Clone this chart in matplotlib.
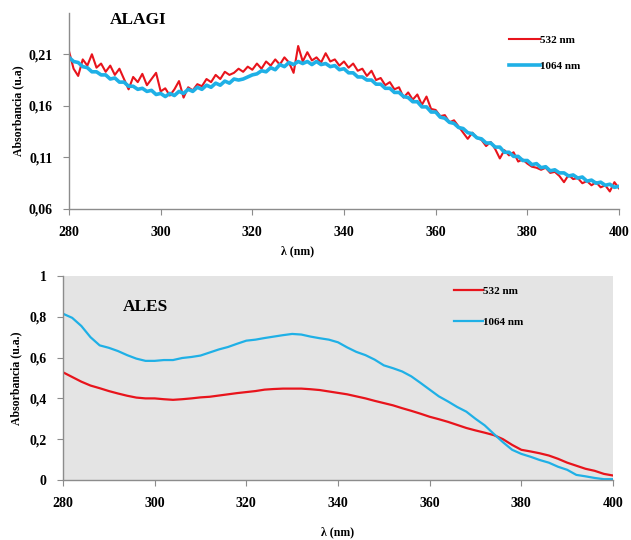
import matplotlib
matplotlib.use("Agg")
import matplotlib.pyplot as plt
import numpy as np

plt.rcParams['font.family'] = ['Liberation Serif', 'DejaVu Serif']
plt.rcParams['font.weight'] = 'bold'

# ALAGI (top), 1 nm steps
lam_top = np.arange(280, 401, 1)
alagi_532 = [
    .213, .196, .189, .205, .199, .210, .197, .201, .193, .199,
    .190, .196, .186, .176, .188, .183, .191, .180, .186, .192,
    .174, .177, .170, .176, .184, .168, .178, .175, .181, .179,
    .186, .183, .190, .186, .193, .190, .192, .196, .193, .198,
    .195, .201, .196, .203, .199, .205, .200, .207, .202, .192,
    .218, .203, .212, .204, .207, .202, .211, .203, .205, .199,
    .203, .197, .201, .194, .196, .189, .194, .185, .187, .180,
    .183, .176, .178, .168, .173, .166, .171, .161, .169, .157,
    .156, .150, .151, .144, .146, .140, .134, .128, .134, .129,
    .127, .121, .125, .118, .109, .117, .112, .115, .106, .108,
    .104, .101, .100, .098, .100, .095, .096, .092, .086, .093,
    .089, .090, .085, .087, .083, .086, .081, .083, .077, .086,
    .080]
alagi_1064 = [
    .207, .203, .202, .198, .197, .193, .193, .190, .190, .186,
    .187, .183, .183, .179, .179, .176, .177, .174, .175, .171,
    .172, .169, .172, .170, .174, .172, .176, .174, .178, .176,
    .180, .178, .182, .180, .184, .182, .186, .185, .186, .188,
    .190, .191, .194, .193, .197, .195, .200, .198, .202, .200,
    .203, .201, .203, .200, .203, .200, .201, .198, .199, .195,
    .196, .192, .192, .188, .188, .185, .185, .181, .181, .177,
    .177, .173, .173, .169, .168, .164, .164, .159, .159, .154,
    .154, .149, .148, .144, .143, .139, .138, .134, .133, .129,
    .128, .124, .124, .120, .120, .115, .115, .111, .111, .107,
    .107, .103, .104, .100, .101, .097, .098, .095, .095, .092,
    .093, .090, .091, .087, .088, .085, .086, .083, .084, .081,
    .082]

# ALES (bottom), 2 nm steps
lam_bot = np.arange(280, 401, 2)
ales_532 = [
    .528, .505, .482, .463, .450, .436, .424, .413, .404, .400,
    .400, .396, .393, .396, .400, .405, .408, .414, .420, .426,
    .431, .436, .443, .446, .448, .448, .448, .445, .441, .434,
    .427, .420, .410, .400, .388, .377, .366, .352, .339, .325,
    .310, .298, .285, .270, .255, .243, .232, .220, .200, .172,
    .148, .140, .131, .120, .104, .085, .070, .055, .045, .030,
    .022]
ales_1064 = [
    .815, .795, .755, .700, .660, .648, .632, .612, .595, .584,
    .584, .588, .588, .598, .603, .610, .625, .640, .652, .668,
    .683, .688, .696, .703, .710, .716, .713, .703, .695, .688,
    .675, .650, .628, .612, .590, .562, .548, .532, .508, .476,
    .443, .410, .385, .358, .335, .300, .268, .226, .185, .148,
    .128, .114, .098, .085, .065, .050, .025, .018, .010, .004,
    .004]

x_ticks = [280, 300, 320, 340, 360, 380, 400]
top_yticks = [0.06, 0.11, 0.16, 0.21]
top_ylabels = ['0,06', '0,11', '0,16', '0,21']
bot_yticks = [0, 0.2, 0.4, 0.6, 0.8, 1]
bot_ylabels = ['0', '0,2', '0,4', '0,6', '0,8', '1']

RED = '#e8141c'
BLUE = '#1fb0e6'
W, H = 631, 540

fig = plt.figure(figsize=(W / 100, H / 100), dpi=100)

def style(ax):
    for s in ['top', 'right']:
        ax.spines[s].set_visible(False)
    for s in ['left', 'bottom']:
        ax.spines[s].set_color('#8c8c8c')
        ax.spines[s].set_linewidth(1.0)
    ax.tick_params(axis='both', direction='out', length=4, color='#8c8c8c',
                   labelsize=10)
    ax.tick_params(axis='x', pad=8)
    ax.tick_params(axis='y', pad=8)
    ax.set_xlim(280, 400)
    ax.set_xticks(x_ticks)
    for lab in ax.get_xticklabels() + ax.get_yticklabels():
        lab.set_fontweight('bold')

# top panel
ax1 = fig.add_axes([69 / W, 1 - 209 / H, 550 / W, 196 / H])
ax1.plot(lam_top, alagi_532, color=RED, lw=1.5, label='532 nm')
ax1.plot(lam_top, alagi_1064, color=BLUE, lw=2.6, label='1064 nm')
ax1.set_ylim(0.06, 0.25)
ax1.set_yticks(top_yticks)
ax1.set_yticklabels(top_ylabels)
style(ax1)
ax1.set_ylabel('Absorbancia (u.a)', fontsize=8.5, fontweight='bold', labelpad=3)
ax1.legend(loc='upper left', bbox_to_anchor=(509 / W, 1 - 35 / H),
           bbox_transform=fig.transFigure, frameon=False, fontsize=8,
           handlelength=2.8, handletextpad=0.0, labelspacing=1.45,
           borderpad=0, borderaxespad=0)
fig.text(138 / W, 1 - 20 / H, 'ALAGI', fontsize=12.5, fontweight='bold',
         ha='center', va='center')
fig.text(298 / W, 1 - 251 / H, 'λ (nm)', fontsize=8.5, fontweight='bold',
         ha='center', va='center')

# bottom panel
ax2 = fig.add_axes([63 / W, 1 - 480 / H, 550 / W, 204 / H])
ax2.set_facecolor('#e4e4e4')
ax2.plot(lam_bot, ales_532, color=RED, lw=1.6, label='532 nm')
ax2.plot(lam_bot, ales_1064, color=BLUE, lw=1.6, label='1064 nm')
ax2.set_ylim(0, 1)
ax2.set_yticks(bot_yticks)
ax2.set_yticklabels(bot_ylabels)
style(ax2)
ax2.set_ylabel('Absorbancia (u.a.)', fontsize=8.5, fontweight='bold', labelpad=5)
ax2.legend(loc='upper left', bbox_to_anchor=(454 / W, 1 - 286 / H),
           bbox_transform=fig.transFigure, frameon=False, fontsize=8,
           handlelength=2.6, handletextpad=0.0, labelspacing=1.9,
           borderpad=0, borderaxespad=0)
fig.text(145 / W, 1 - 307 / H, 'ALES', fontsize=12.5, fontweight='bold',
         ha='center', va='center')
fig.text(338 / W, 1 - 532 / H, 'λ (nm)', fontsize=8.5, fontweight='bold',
         ha='center', va='center')

fig.savefig('out.png', dpi=100)
